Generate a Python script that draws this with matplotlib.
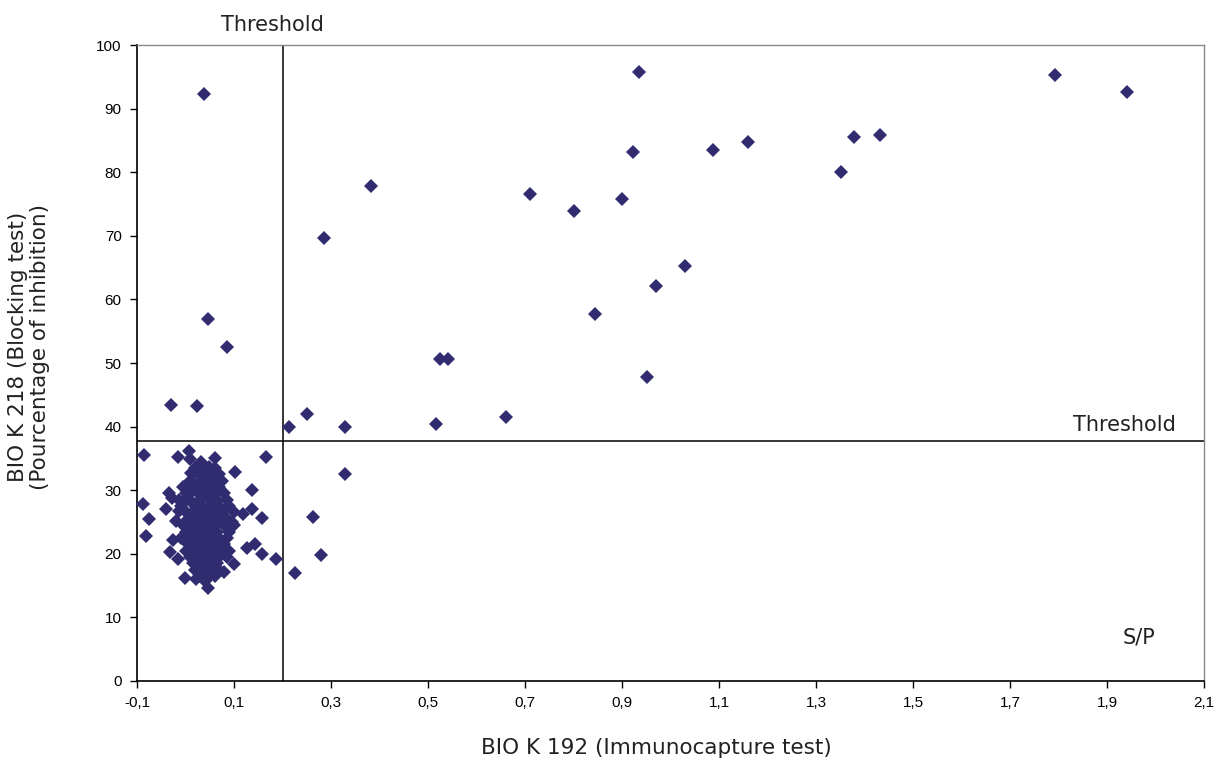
import matplotlib
matplotlib.use("Agg")
import matplotlib.pyplot as plt

# S/P values (BIO K 192) and % inhibition (BIO K 218)
pos_x = [0.935, 0.923, 1.088, 1.160, 0.710, 0.801, 0.900, 1.793, 1.941, 1.378,
         1.432, 1.352, 0.382, 0.286, 1.030, 0.970, 0.844, 0.525, 0.541, 0.952,
         0.213, 0.250, 0.329, 0.517, 0.661]
pos_y = [95.8, 83.2, 83.5, 84.8, 76.6, 73.9, 75.8, 95.3, 92.6, 85.5,
         85.8, 80.0, 77.8, 69.7, 65.2, 62.1, 57.7, 50.6, 50.6, 47.8,
         39.9, 42.0, 40.0, 40.4, 41.5]

left_x = [0.038, 0.046, 0.086, -0.030, 0.024]
left_y = [92.3, 56.9, 52.5, 43.4, 43.2]

low_x = [0.329, 0.263, 0.279, 0.226, 0.187]
low_y = [32.5, 25.8, 19.8, 17.0, 19.2]

# outer points of the negative cluster
edge_x = [-0.086, -0.015, 0.007, 0.009, 0.061, 0.166, 0.032, 0.048, 0.102, 0.011,
          0.024, 0.041, -0.005, 0.013, 0.137, -0.034, -0.028, -0.014, -0.003, -0.088,
          -0.040, -0.014, 0.137, 0.119, 0.158, -0.075, -0.020, 0.096, -0.082, -0.026,
          -0.032, -0.015, 0.127, 0.143, 0.158, 0.090, 0.100, 0.079, 0.046, -0.001,
          0.022, 0.041]
edge_y = [35.5, 35.2, 36.2, 34.9, 35.1, 35.2, 34.4, 33.7, 32.9, 32.7,
          33.0, 32.9, 30.5, 29.9, 30.0, 29.6, 28.8, 28.5, 28.1, 27.8,
          27.0, 26.7, 27.0, 26.3, 25.6, 25.5, 25.2, 25.0, 22.8, 22.1,
          20.3, 19.2, 20.9, 21.5, 20.0, 20.4, 18.4, 17.2, 14.6, 16.2,
          16.0, 15.8]

# dense core of the cluster
core_x = [0.02, 0.04, 0.06,
          0.015, 0.035, 0.05, 0.07,
          0.01, 0.03, 0.045, 0.06, 0.075,
          0.02, 0.04, 0.055, 0.07,
          0.0, 0.025, 0.04, 0.06, 0.08,
          0.01, 0.03, 0.05, 0.065, 0.085,
          -0.01, 0.02, 0.035, 0.05, 0.07, 0.09,
          0.0, 0.015, 0.03, 0.045, 0.06, 0.075, 0.1,
          0.005, 0.02, 0.04, 0.055, 0.07, 0.085,
          -0.005, 0.01, 0.03, 0.045, 0.06, 0.08, 0.1,
          0.0, 0.02, 0.035, 0.05, 0.065, 0.09,
          -0.01, 0.01, 0.025, 0.04, 0.055, 0.07, 0.085,
          0.005, 0.02, 0.035, 0.05, 0.065, 0.08,
          0.0, 0.015, 0.03, 0.045, 0.06, 0.075,
          0.01, 0.025, 0.04, 0.055, 0.07, 0.085,
          0.015, 0.03, 0.05, 0.065,
          0.02, 0.04, 0.055, 0.07,
          0.03, 0.05, 0.06]
core_y = [33.5, 33.5, 33.5,
          32.5, 32.5, 32.5, 32.5,
          31.5, 31.5, 31.5, 31.5, 31.5,
          30.5, 30.5, 30.5, 30.5,
          29.5, 29.5, 29.5, 29.5, 29.5,
          28.5, 28.5, 28.5, 28.5, 28.5,
          27.5, 27.5, 27.5, 27.5, 27.5, 27.5,
          26.5, 26.5, 26.5, 26.5, 26.5, 26.5, 26.5,
          25.5, 25.5, 25.5, 25.5, 25.5, 25.5,
          24.5, 24.5, 24.5, 24.5, 24.5, 24.5, 24.5,
          23.5, 23.5, 23.5, 23.5, 23.5, 23.5,
          22.5, 22.5, 22.5, 22.5, 22.5, 22.5, 22.5,
          21.5, 21.5, 21.5, 21.5, 21.5, 21.5,
          20.5, 20.5, 20.5, 20.5, 20.5, 20.5,
          19.5, 19.5, 19.5, 19.5, 19.5, 19.5,
          18.5, 18.5, 18.5, 18.5,
          17.5, 17.5, 17.5, 17.5,
          16.5, 16.5, 16.5]

sp_threshold = 0.2
inhib_threshold = 37.7

xticks = [-0.1, 0.1, 0.3, 0.5, 0.7, 0.9, 1.1, 1.3, 1.5, 1.7, 1.9, 2.1]
xtick_labels = ["-0,1", "0,1", "0,3", "0,5", "0,7", "0,9", "1,1", "1,3", "1,5", "1,7", "1,9", "2,1"]
yticks = [0, 10, 20, 30, 40, 50, 60, 70, 80, 90, 100]

color = "#312C70"
txt = "#222222"

fig = plt.figure(figsize=(12.18, 7.58), dpi=100)
ax = fig.add_axes([0.1125, 0.1016, 0.876, 0.8390])

all_x = pos_x + left_x + low_x + edge_x + core_x
all_y = pos_y + left_y + low_y + edge_y + core_y
ax.plot(all_x, all_y, linestyle="none", marker="D", ms=7, color=color,
        markeredgewidth=0, clip_on=False, zorder=3)

ax.axvline(sp_threshold, color="black", lw=1.1, zorder=2)
ax.axhline(inhib_threshold, color="black", lw=1.1, zorder=2)

ax.set_xlim(-0.1, 2.1)
ax.set_ylim(0, 100)
ax.set_xticks(xticks)
ax.set_xticklabels(xtick_labels, family="Liberation Sans", fontsize=11)
ax.set_yticks(yticks)
ax.set_yticklabels([str(v) for v in yticks], family="Liberation Sans", fontsize=11)
ax.tick_params(direction="out", length=5, width=1, pad=6)

for side in ["top", "right"]:
    ax.spines[side].set_color("#888888")
    ax.spines[side].set_linewidth(1)
for side in ["left", "bottom"]:
    ax.spines[side].set_color("black")
    ax.spines[side].set_linewidth(1.2)

ax.set_xlabel("BIO K 192 (Immunocapture test)", fontsize=15.5, color=txt, labelpad=20)
ax.xaxis.label.set_x(0.487)
ax.set_ylabel("BIO K 218 (Blocking test)\n(Pourcentage of inhibition)", fontsize=15.5,
              color=txt, labelpad=33, linespacing=1.15)
ax.yaxis.label.set_y(0.525)

ax.text(0.180, 103.1, "Threshold", ha="center", va="center",
        fontsize=15, color=txt, clip_on=False)
ax.text(2.042, 40.3, "Threshold", ha="right", va="center", fontsize=15, color=txt)
ax.text(1.999, 6.9, "S/P", ha="right", va="center", fontsize=15, color=txt)

fig.savefig("out.png", dpi=100)
